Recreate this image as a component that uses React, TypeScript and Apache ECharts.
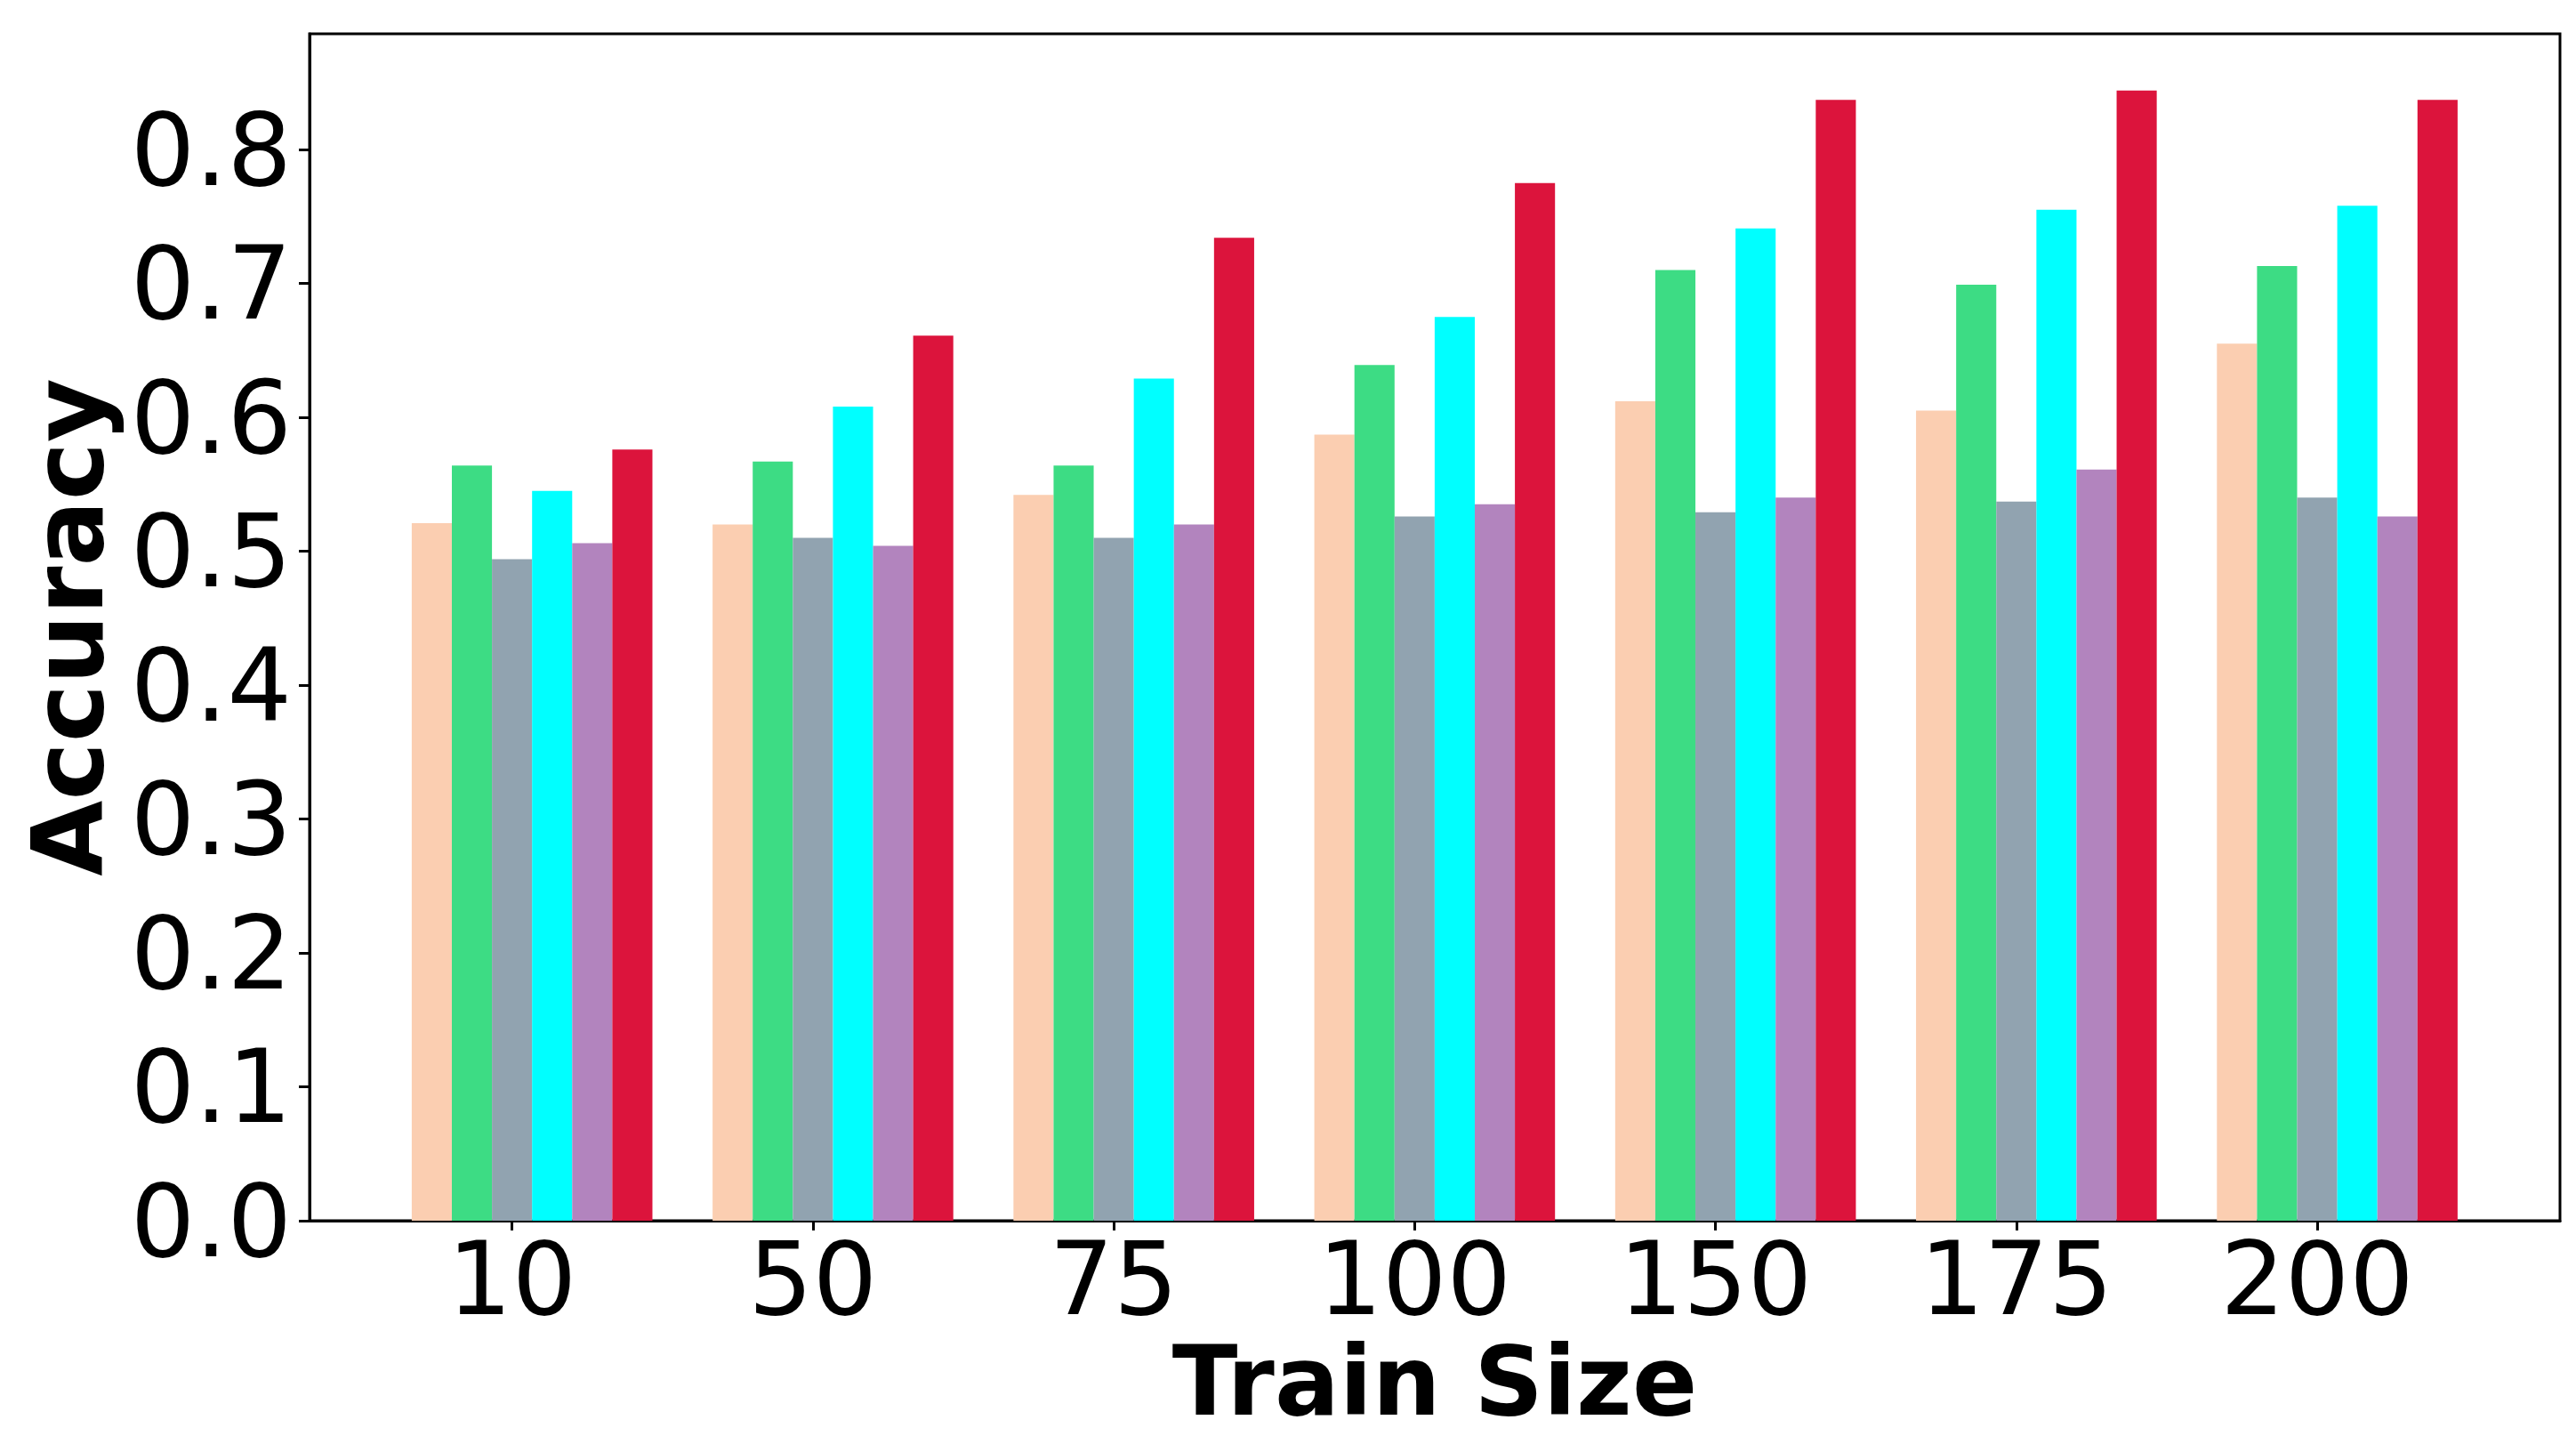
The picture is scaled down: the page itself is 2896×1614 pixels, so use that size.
import React, { useEffect, useRef } from "react";
import * as echarts from "echarts";

const categories = ["10", "50", "75", "100", "150", "175", "200"];
const seriesColors = ["#FBCEB1", "#3DDC84", "#91A3B0", "#00FFFF", "#B284BE", "#DC143C"];
const seriesNames = ["Method A", "Method B", "Method C", "Method D", "Method E", "Method F"];
const peachValues = [0.521, 0.520, 0.542, 0.587, 0.612, 0.605, 0.655];
const greenValues = [0.564, 0.567, 0.564, 0.639, 0.710, 0.699, 0.713];
const grayValues = [0.494, 0.510, 0.510, 0.526, 0.529, 0.537, 0.540];
const cyanValues = [0.545, 0.608, 0.629, 0.675, 0.741, 0.755, 0.758];
const purpleValues = [0.506, 0.504, 0.520, 0.535, 0.540, 0.561, 0.526];
const redValues = [0.576, 0.661, 0.734, 0.775, 0.837, 0.844, 0.837];
const yTicks = [0, 0.1, 0.2, 0.3, 0.4, 0.5, 0.6, 0.7, 0.8];

const allValues = [peachValues, greenValues, grayValues, cyanValues, purpleValues, redValues];
const BAR_W = 0.8 / 6;

export default function App() {
  const ref = useRef<HTMLDivElement>(null);
  useEffect(() => {
    if (!ref.current) return;
    const chart = echarts.init(ref.current, null, { renderer: "svg" });
    const series = allValues.map((vals, sIdx) => ({
      type: "custom",
      name: seriesNames[sIdx],
      data: vals.map((v, i) => [i, v]),
      clip: true,
      renderItem: (params: any, api: any) => {
        const x = api.value(0);
        const v = api.value(1);
        const off = (sIdx - 2) * BAR_W;
        const p0 = api.coord([x + off - BAR_W / 2, v]);
        const p1 = api.coord([x + off + BAR_W / 2, 0]);
        return {
          type: "rect",
          shape: { x: p0[0], y: p0[1], width: p1[0] - p0[0], height: p1[1] - p0[1] },
          style: { fill: seriesColors[sIdx] },
        };
      },
    }));
    chart.setOption({
      animation: false,
      backgroundColor: "#ffffff",
      grid: {
        left: 348,
        top: 38,
        right: 18,
        bottom: 242,
        show: true,
        borderColor: "#000",
        borderWidth: 3,
        backgroundColor: "transparent",
      },
      xAxis: {
        type: "value",
        min: -0.673,
        max: 6.807,
        name: "Train Size",
        nameLocation: "middle",
        nameGap: 130,
        nameTextStyle: { fontFamily: "DejaVu Sans", fontWeight: "bold", fontSize: 108, lineHeight: 88, color: "#000" },
        axisLine: { show: true, onZero: false, lineStyle: { color: "#000", width: 3 } },
        axisTick: { show: true, length: 11, lineStyle: { color: "#000", width: 3 }, customValues: categories.map((_, i) => i) },
        axisLabel: {
          show: true,
          margin: 8,
          fontFamily: "DejaVu Sans",
          fontSize: 114,
          color: "#000",
          customValues: categories.map((_, i) => i),
          formatter: (v: number) => categories[Math.round(v)] ?? "",
        },
        splitLine: { show: false },
      },
      yAxis: {
        type: "value",
        min: 0,
        max: 0.8864,
        name: "Accuracy",
        nameLocation: "middle",
        nameGap: 216,
        nameRotate: 90,
        nameTextStyle: { fontFamily: "DejaVu Sans", fontWeight: "bold", fontSize: 110, color: "#000" },
        axisLine: { show: true, onZero: false, lineStyle: { color: "#000", width: 3 } },
        axisTick: { show: true, length: 12, lineStyle: { color: "#000", width: 3 }, customValues: yTicks },
        axisLabel: {
          show: true,
          margin: 20,
          fontFamily: "DejaVu Sans",
          fontSize: 114,
          color: "#000",
          customValues: yTicks,
          formatter: (v: number) => v.toFixed(1),
        },
        splitLine: { show: false },
      },
      series,
    });
    return () => chart.dispose();
  }, []);
  return (
    <div
      ref={ref}
      style={{ position: "absolute", left: 0, top: 0, width: 2896, height: 1614, background: "#fff" }}
    />
  );
}
